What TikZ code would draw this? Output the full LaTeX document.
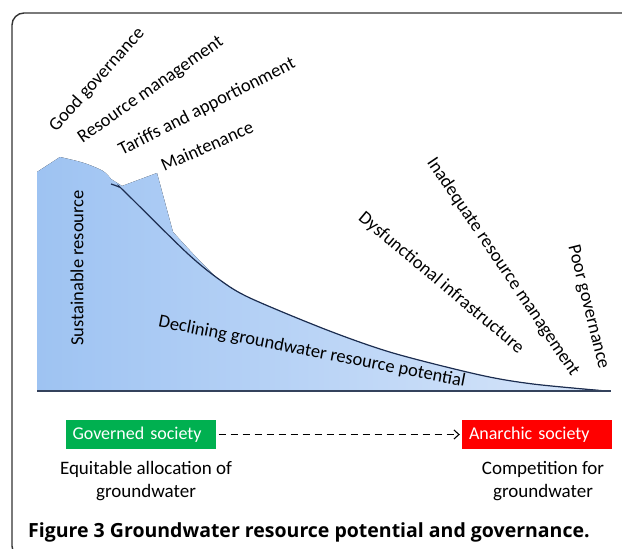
\documentclass[tikz,border=0pt]{standalone}
\usepackage{fontspec}
\setmainfont{Carlito}
\newfontfamily\captionfont{Open Sans}
\usetikzlibrary{arrows.meta}
\definecolor{waterdark}{RGB}{158,195,242}
\definecolor{waterlight}{RGB}{216,230,250}
\definecolor{curveblue}{RGB}{28,45,80}
\definecolor{baseblue}{RGB}{52,66,92}
\definecolor{govgreen}{RGB}{0,176,80}
\definecolor{anared}{RGB}{255,0,0}
\begin{document}
\begin{tikzpicture}[x=1pt,y=-1pt,
		factor/.style={font=\fontsize{18.5}{18.5}\selectfont,inner sep=0pt},
		society/.style={font=\fontsize{18}{18}\selectfont,text=white,text width=136pt,
			align=left,inner xsep=7pt,minimum height=29pt,inner ysep=0pt},
		outcome/.style={font=\fontsize{19}{23}\selectfont,align=center,inner sep=0pt}]
		\useasboundingbox (0,0) rectangle (622,549);
		\clip (0,0) rectangle (622,549);
		
		\draw[line width=1.4pt][black!80][rounded corners=12pt](12,13) rectangle (650,558);
		
		\fill[left color=waterdark,right color=waterlight](37,391)--(37,172)--(60,157)
		--plot[smooth] coordinates {(60,157) (84,163) (103,171) (111,179)}
		--(122,186)--(157,173)--(173,232)
		--plot[smooth] coordinates {(173,232) (198,259) (222,282) (250,298) (327,330)
			(393,353) (480,375) (533,384) (610,391)}--cycle;
		
		\draw[line width=1.2pt][curveblue] plot[smooth] coordinates {(111,184) (119,187)
			(125,192) (187,253) (220,280) (250,298) (327,330) (393,353) (480,375)
			(533,384) (606,391)};
		\draw[line width=2pt][baseblue](37,391)--(611,391);
		
		\node[factor,rotate=48] (goodgov) at (97,80) {Good governance};
		\node[factor,rotate=35] (resmgmt) at (151,90) {Resource management};
		\node[factor,rotate=27] (tariffs) at (207,107) {Tariffs and apportionment};
		\node[factor,rotate=24] (maint) at (207,146) {Maintenance};
		
		\node[factor,rotate=-40] (dysfunc) at (441,283) {Dysfunctional infrastructure};
		\node[factor,rotate=-56] (inadeq) at (503,267) {Inadequate resource management};
		\node[factor,rotate=-76] (poorgov) at (588,307) {Poor governance};
		
		\node[factor,rotate=90] (sustain) at (77,268) {Sustainable resource};
		\node[factor,rotate=-11] (decline) at (312,352) {Declining groundwater resource potential};
		
		\node[society][fill=govgreen] (governed) at (140.5,434.5) {Governed society};
		\node[society][fill=anared] (anarchic) at (537,434.5) {Anarchic society};
		\draw[dashed,dash pattern=on 7pt off 5pt,line width=1.1pt,
		shorten <=3pt,shorten >=2pt,-{Straight Barb[length=5pt,width=9pt]}]
		(governed)--(anarchic);
		
		\node[outcome] (equit) at (146,481) {Equitable allocation of\\groundwater};
		\node[outcome] (compet) at (543,481) {Competition for\\groundwater};
		
		\node[anchor=base west,inner sep=0pt,font=\captionfont\bfseries\fontsize{19.5}{19.5}\selectfont]
		(caption) at (28,537) {Figure 3 Groundwater resource potential and governance.};
\end{tikzpicture}
\end{document}
